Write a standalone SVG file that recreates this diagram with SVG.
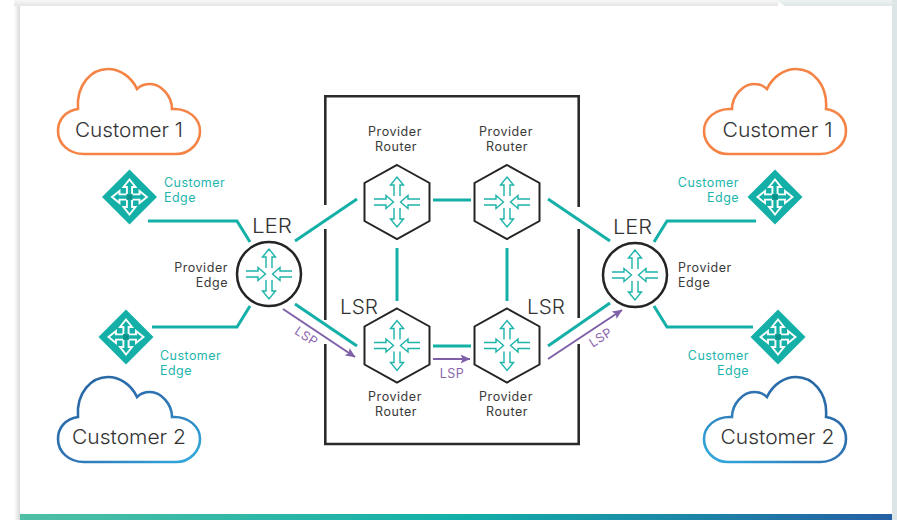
<svg xmlns="http://www.w3.org/2000/svg" width="897" height="520" viewBox="0 0 897 520">
<style>
text{font-family:"Inter","Liberation Sans",sans-serif}
.big{font-size:20px;fill:#333;font-weight:300}
.lbl{font-size:12.5px;fill:#3a3a3a;font-weight:400;letter-spacing:.55px}
.ce{font-size:12.5px;fill:#22b5ad;font-weight:400;letter-spacing:.45px}
.lsp{font-size:12.5px;fill:#8a66ad;font-weight:400;letter-spacing:.5px}
.m{text-anchor:middle}
.e{text-anchor:end}
.link{fill:none;stroke:#14b0a7;stroke-width:3}
.pl{fill:none;stroke:#7f5fa8;stroke-width:2}
.hex{fill:#fff;stroke:#242424;stroke-width:2}
.circ{fill:#fff;stroke:#242424;stroke-width:2.5}
.box{fill:none;stroke:#2b2b2b;stroke-width:2.6}
.ra{fill:#fff;stroke:#1cb3ab;stroke-width:1.4;stroke-linejoin:miter}
.da{fill:#14b0a7;stroke:#fff;stroke-width:1.9}
.cl{fill:#fff;stroke-width:2.6}
</style>
<defs>
<linearGradient id="band" x1="0" x2="1" y1="0" y2="0"><stop offset="0" stop-color="#4fbfa5"/><stop offset=".5" stop-color="#12b0a8"/><stop offset="1" stop-color="#2560a5"/></linearGradient>
<linearGradient id="sh" x1="0" x2="1" y1="0" y2="0"><stop offset="0" stop-color="#fff"/><stop offset="1" stop-color="#d8dada"/></linearGradient>
<linearGradient id="st" x1="0" x2="0" y1="0" y2="1"><stop offset="0" stop-color="#f8f8f8"/><stop offset="1" stop-color="#e4e4e4"/></linearGradient>
<linearGradient id="st2" x1="0" x2="0" y1="0" y2="1"><stop offset="0" stop-color="#eef3f3"/><stop offset="1" stop-color="#dde6e6"/></linearGradient>
<linearGradient id="bl" x1="0" y1="0" x2="1" y2="1"><stop offset="0" stop-color="#26639f"/><stop offset=".55" stop-color="#2f76b6"/><stop offset="1" stop-color="#33addf"/></linearGradient>
<marker id="ah" markerUnits="userSpaceOnUse" markerWidth="11" markerHeight="10" refX="9.5" refY="5" orient="auto"><path d="M0 .5L10 5L0 9.5L2.2 5Z" fill="#7f5fa8"/></marker>
<path id="cloud" d="M84 154H176C190 154 200 143 200 131C200 119 189 108 172 109C172 96 161 84 150 84C146 84 141 85 137 89C131 76 119 69 108 69C92 69 76 84 78 109C65 111 58 120 58 131C58 144 69 154 84 154Z"/>
<g id="rg">
<path class="ra" d="M-3 -6V-17H-6.5L0 -25L6.5 -17H3V-6" />
<path class="ra" d="M-3 6V17H-6.5L0 25L6.5 17H3V6" />
<path class="ra" d="M-23 -3H-11V-6.5L-3.5 0L-11 6.5V3H-23" />
<path class="ra" d="M23 -3H11V-6.5L3.5 0L11 6.5V3H23" />
</g>
<g id="dg">
<path class="da" d="M-2.6 -3V-10H-6L0 -17.5L6 -10H2.6V-3" />
<path class="da" d="M-2.6 3V10H-6L0 17.5L6 10H2.6V3" />
<path class="da" d="M-3 -2.6H-10V-6L-17.5 0L-10 6V2.6H-3" />
<path class="da" d="M3 -2.6H10V-6L17.5 0L10 6V2.6H3" />
<rect x="-2.6" y="-2.6" width="5.2" height="5.2" fill="#0e8f88"/>
</g>
<polygon id="dm" points="0,-27.5 27.5,0 0,27.5 -27.5,0" fill="#14b0a7"/>
<polygon id="hx" class="hex" points="0,-37 32.5,-19 32.5,19 0,37 -32.5,19 -32.5,-19"/>
</defs>
<rect width="897" height="520" fill="#fff"/>
<rect x="14" y="0" width="764" height="6" fill="url(#st)"/>
<polygon points="776,0 897,0 897,6 785,6" fill="url(#st2)"/>
<rect x="892" y="0" width="5" height="520" fill="#dde6e6"/>
<rect x="14" y="6" width="6" height="514" fill="url(#sh)"/>
<rect x="20" y="514" width="872" height="6" fill="url(#band)"/>

<g id="core-box">
<path class="box" d="M325.3 205V96.3H578.7V207M578.7 229V318M578.7 344V444H325.3V344M325.3 320V229"/>
</g>

<g id="connectors">
<path class="link" d="M148 221H237L250 242"/>
<path class="link" d="M152 327H237L250 306"/>
<path class="link" d="M295 241L357 199"/>
<path class="link" d="M295 304L357 346"/>
<path class="link" d="M433 200H471"/>
<path class="link" d="M433 346H471"/>
<path class="link" d="M397 248V301"/>
<path class="link" d="M507 248V301"/>
<path class="link" d="M548 199L610 241"/>
<path class="link" d="M548 346L610 303"/>
<path class="link" d="M756 221H667L654 242"/>
<path class="link" d="M753 327H667L654 306"/>
<path class="pl" d="M283 309L355 357" marker-end="url(#ah)"/>
<path class="pl" d="M433 359H470" marker-end="url(#ah)"/>
<path class="pl" d="M548 359L622 310" marker-end="url(#ah)"/>
<text class="lsp m" transform="translate(304 340) rotate(33)">LSP</text>
<text class="lsp m" x="452" y="378">LSP</text>
<text class="lsp m" transform="translate(603 341) rotate(-33)">LSP</text>
</g>

<g id="cloud-c1-left"><use href="#cloud" class="cl" stroke="#f58345" fill="#fff"/><text class="big" x="75" y="137" textLength="108" lengthAdjust="spacingAndGlyphs">Customer 1</text></g>
<g id="cloud-c2-left"><use href="#cloud" y="308" class="cl" stroke="url(#bl)" fill="#fff"/><text class="big" x="72" y="444" textLength="114" lengthAdjust="spacingAndGlyphs">Customer 2</text></g>
<g id="cloud-c1-right"><use href="#cloud" transform="translate(904 0) scale(-1 1)" class="cl" stroke="#f58345" fill="#fff"/><text class="big" x="722.5" y="137" textLength="110" lengthAdjust="spacingAndGlyphs">Customer 1</text></g>
<g id="cloud-c2-right"><use href="#cloud" transform="translate(904 308) scale(-1 1)" class="cl" stroke="url(#bl)" fill="#fff"/><text class="big" x="720.5" y="444" textLength="114" lengthAdjust="spacingAndGlyphs">Customer 2</text></g>

<g id="ce-top-left"><g transform="translate(129.5 197)"><use href="#dm"/><use href="#dg"/></g><text class="ce" x="164" y="187">Customer</text><text class="ce" x="164" y="202">Edge</text></g>
<g id="ce-bottom-left"><g transform="translate(126 337)"><use href="#dm"/><use href="#dg"/></g><text class="ce" x="160" y="360">Customer</text><text class="ce" x="160" y="375">Edge</text></g>
<g id="ce-top-right"><g transform="translate(775 197)"><use href="#dm"/><use href="#dg"/></g><text class="ce e" x="739" y="187">Customer</text><text class="ce e" x="739" y="202">Edge</text></g>
<g id="ce-bottom-right"><g transform="translate(778 337)"><use href="#dm"/><use href="#dg"/></g><text class="ce e" x="749" y="360">Customer</text><text class="ce e" x="749" y="375">Edge</text></g>

<g id="pe-left"><circle class="circ" cx="269" cy="274" r="32"/><use href="#rg" x="269" y="274"/><text class="big" x="252" y="233" textLength="40" lengthAdjust="spacingAndGlyphs">LER</text><text class="lbl e" x="228" y="272">Provider</text><text class="lbl e" x="228" y="287">Edge</text></g>
<g id="pe-right"><circle class="circ" cx="635" cy="275" r="32"/><use href="#rg" x="635" y="275"/><text class="big" x="613" y="234" textLength="39" lengthAdjust="spacingAndGlyphs">LER</text><text class="lbl" x="678" y="272">Provider</text><text class="lbl" x="678" y="287">Edge</text></g>

<g id="p-top-left"><use href="#hx" x="397" y="202"/><use href="#rg" x="397" y="202"/><text class="lbl m" x="395" y="136">Provider</text><text class="lbl m" x="396" y="151">Router</text></g>
<g id="p-top-right"><use href="#hx" x="507" y="202"/><use href="#rg" x="507" y="202"/><text class="lbl m" x="506" y="136">Provider</text><text class="lbl m" x="507" y="151">Router</text></g>
<g id="p-bottom-left"><use href="#hx" x="397" y="345.5"/><use href="#rg" x="397" y="345.5"/><text class="big" x="340" y="314" textLength="38" lengthAdjust="spacingAndGlyphs">LSR</text><text class="lbl m" x="395" y="401">Provider</text><text class="lbl m" x="396" y="416">Router</text></g>
<g id="p-bottom-right"><use href="#hx" x="507" y="345.5"/><use href="#rg" x="507" y="345.5"/><text class="big" x="527" y="314" textLength="38" lengthAdjust="spacingAndGlyphs">LSR</text><text class="lbl m" x="506" y="401">Provider</text><text class="lbl m" x="507" y="416">Router</text></g>
</svg>
